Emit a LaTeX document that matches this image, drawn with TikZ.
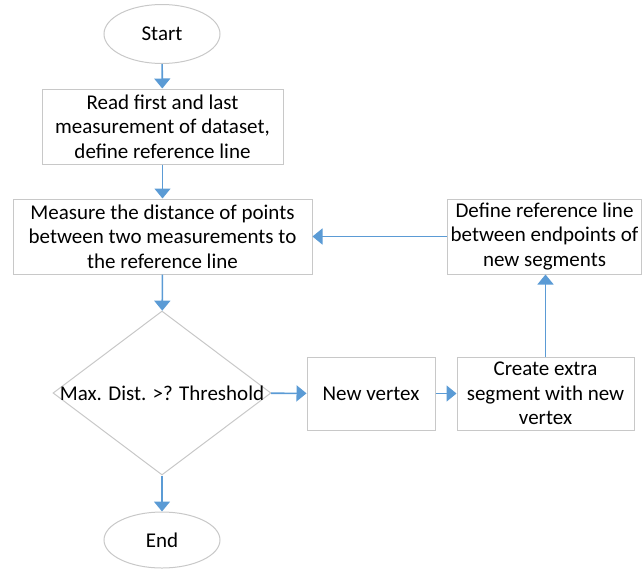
\documentclass[tikz,border=0pt]{standalone}
\usepackage{fontspec}
\setmainfont{Carlito}
\usetikzlibrary{shapes.geometric,arrows.meta}
\definecolor{boxline}{HTML}{C8C8C8}
\definecolor{arrowblue}{HTML}{5B9BD5}
\tikzset{
  base/.style={draw=boxline, line width=1pt, align=center, font=\fontsize{21}{24.5}\selectfont, inner sep=0pt},
  procbox/.style={base, rectangle},
  term/.style={base, ellipse},
  decide/.style={base, diamond, aspect=1.33},
  flow/.style={draw=arrowblue, line width=1.6pt, -{Triangle[width=16pt,length=10pt]}}
}
\begin{document}
\begin{tikzpicture}[x=1pt,y=-1pt]
\useasboundingbox (0,0) rectangle (642,568);
\node[term, minimum width=116pt, minimum height=59pt] (start) at (162,34) {Start};
\node[procbox, minimum width=241pt, minimum height=75pt] (read) at (162.5,126.5) {Read first and last\\measurement of dataset,\\define reference line};
\node[procbox, minimum width=299pt, minimum height=75pt] (measure) at (162.5,236.5) {Measure the distance of points\\between two measurements to\\the reference line};
\node[procbox, minimum width=194pt, minimum height=75pt] (define) at (544.5,236.5) {Define reference line\\between endpoints of\\new segments};
\node[decide, minimum width=218pt, minimum height=164pt] (dec) at (162,393) {};
\node[font=\fontsize{21}{24.5}\selectfont, inner sep=0pt] (declabel) at (162,393) {Max. Dist. >? Threshold};
\node[procbox, minimum width=128pt, minimum height=73pt] (newv) at (371,393.5) {New vertex};
\node[procbox, minimum width=177pt, minimum height=73pt] (create) at (545.5,393.5) {Create extra\\segment with new\\vertex};
\node[term, minimum width=116pt, minimum height=56pt] (end) at (162,540) {End};
\draw[flow] (start) -- (read);
\draw[flow] (read) -- (measure);
\draw[flow] (measure) -- (dec);
\draw[flow] (dec) -- (newv);
\draw[flow] (newv) -- (create);
\draw[flow] (create.north) -- (create.north |- define.south);
\draw[flow] (define) -- (measure);
\draw[flow] (dec) -- (end);
\end{tikzpicture}
\end{document}
